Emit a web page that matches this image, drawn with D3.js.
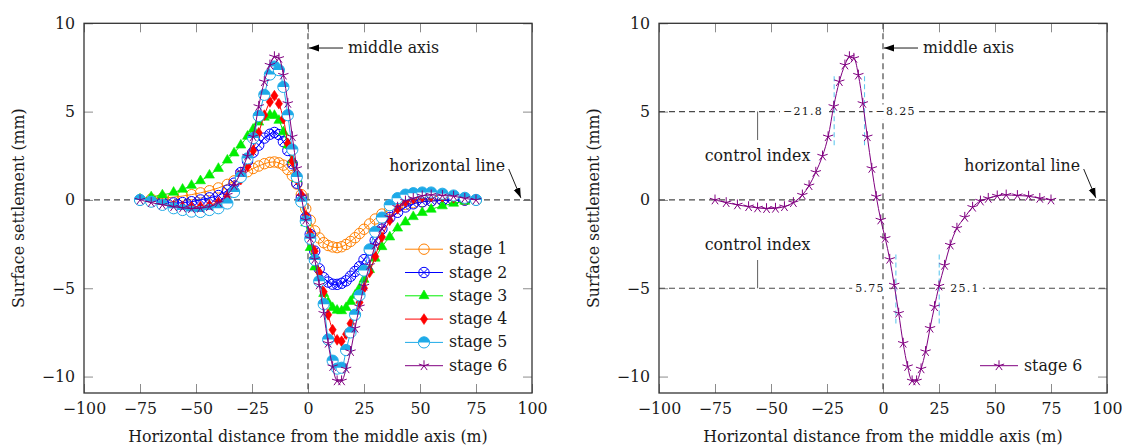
<!DOCTYPE html>
<html>
<head>
<meta charset="utf-8">
<script src="https://cdn.jsdelivr.net/npm/d3@7/dist/d3.min.js"></script>
<style>
    body { margin: 0; background: #ffffff; }
    svg { display: block; }
    svg text { font-family: "DejaVu Serif", "Liberation Serif", serif; }
</style>
</head>
<body>
<div id="chart-container"></div>
<script>
// Surface settlement troughs for six construction stages (two panels)

// Horizontal distance from the middle axis (m)
const distance = [-75, -70, -65, -60, -56, -52, -48, -44, -40, -36, -33, -30, -27, -24.5, -22, -19.5,
    -17, -15, -13, -11, -9, -7, -5, -3, -1, 1, 3, 5, 7, 9, 11, 13, 15, 17, 19, 21, 23, 25,
    27.5, 30, 33, 36.5, 40, 43.5, 47, 51, 55, 60, 65, 70, 75];

// Surface settlement (mm) per stage
const stage1 = [0, 0.05, 0.1, 0.16, 0.22, 0.3, 0.4, 0.52, 0.68, 0.88, 1.08, 1.38, 1.6, 1.78, 1.92, 2.05,
    2.13, 2.15, 2.1, 1.97, 1.72, 1.38, 0.9, 0.3, -0.5, -1.15, -1.75, -2.15, -2.42, -2.58, -2.66, -2.7, -2.65, -2.52, -2.35, -2.14, -1.9, -1.66,
    -1.36, -1.08, -0.8, -0.56, -0.38, -0.25, -0.16, -0.1, -0.06, -0.03, -0.02, -0.01, 0];
const stage2 = [0, -0.05, -0.12, -0.17, -0.15, -0.1, 0, 0.12, 0.25, 0.55, 0.95, 1.55, 2.2, 2.7, 3.1, 3.5,
    3.72, 3.82, 3.7, 3.3, 2.8, 2.05, 0.95, 0.1, -1.0, -1.95, -2.9, -3.9, -4.4, -4.65, -4.77, -4.78, -4.72, -4.58, -4.32, -4.05, -3.78, -3.38,
    -2.85, -2.3, -1.65, -1.0, -0.7, -0.4, -0.22, -0.11, -0.06, -0.03, -0.02, -0.01, 0];
const stage3 = [0.05, 0.17, 0.28, 0.43, 0.6, 0.82, 1.08, 1.4, 1.78, 2.25, 2.65, 3.1, 3.6, 4.0, 4.4, 4.68,
    4.8, 4.78, 4.5, 3.85, 3.1, 2.25, 1.2, 0.0, -1.3, -2.7, -3.8, -4.6, -5.3, -5.8, -6.1, -6.25, -6.28, -6.1, -5.75, -5.4, -5.0, -4.5,
    -3.95, -3.3, -2.65, -2.1, -1.6, -1.25, -0.95, -0.72, -0.53, -0.34, -0.19, -0.08, 0];
const stage4 = [0, -0.1, -0.22, -0.32, -0.38, -0.4, -0.38, -0.3, -0.12, 0.2, 0.6, 1.15, 1.9, 2.8, 3.8, 4.8,
    5.55, 5.9, 5.45, 4.6, 3.2, 2.2, 1.15, 0.3, -0.9, -1.9, -2.9, -4.1, -5.2, -6.5, -7.35, -7.92, -8.0, -7.6, -7.0, -6.5, -5.8, -5.0,
    -4.1, -3.2, -2.1, -1.15, -0.5, -0.1, 0.08, 0.18, 0.2, 0.18, 0.12, 0.05, 0];
const stage5 = [0, -0.1, -0.28, -0.47, -0.57, -0.66, -0.68, -0.57, -0.47, -0.2, 0.45, 1.3, 2.35, 3.5, 4.75, 5.95,
    7.1, 7.55, 7.35, 6.4, 4.8, 2.85, 1.3, -0.1, -1.2, -2.2, -3.4, -4.6, -5.9, -7.9, -9.1, -9.55, -9.5, -8.5, -7.5, -6.5, -5.4, -4.0,
    -2.8, -1.8, -1.0, -0.3, 0.1, 0.3, 0.38, 0.42, 0.42, 0.35, 0.25, 0.12, 0];
const stage6 = [0, -0.15, -0.28, -0.38, -0.45, -0.49, -0.47, -0.38, -0.15, 0.28, 0.81, 1.57, 2.49, 3.58, 5.3, 6.7,
    7.64, 8.11, 8.02, 7.07, 5.47, 3.58, 1.79, 0.19, -1.13, -2.17, -3.36, -4.81, -6.41, -8.11, -9.43, -10.24, -10.24, -9.56, -8.58, -7.26, -6.04, -4.87,
    -3.7, -2.55, -1.6, -0.98, -0.41, -0.06, 0.09, 0.23, 0.28, 0.25, 0.21, 0.09, 0];

const stageNames = ['stage 1', 'stage 2', 'stage 3', 'stage 4', 'stage 5', 'stage 6'];
const stageColors = ['#ff8000', '#0000ff', '#00ee00', '#ff0000', '#1eaae8', '#800080'];
const stageMarkers = ['circle', 'otimes', 'triangle', 'diamond', 'halfcircle', 'star'];

const xTicks = [-100, -75, -50, -25, 0, 25, 50, 75, 100];
const yTicks = [-10, -5, 0, 5, 10];

// Control index (right panel): levels and the distances where stage 6 crosses them
const controlLevels = [5, -5];
const crossX = [-21.8, -8.25, 5.75, 25.1];
const crossY = [5, 5, -5, -5];
const crossLabels = ['\u221221.8', '\u22128.25', '5.75', '25.1'];

const allStages = [stage1, stage2, stage3, stage4, stage5, stage6];
const FS = 15.8;

function initSettlementChart() {
    const svg = d3.select('#chart-container')
        .append('svg')
        .attr('width', 1122)
        .attr('height', 446);

    // Arrow head used by the annotations
    svg.append('defs').append('marker')
        .attr('id', 'arrow-head')
        .attr('viewBox', '0 0 10 8')
        .attr('refX', 10)
        .attr('refY', 4)
        .attr('markerWidth', 10)
        .attr('markerHeight', 8)
        .attr('markerUnits', 'userSpaceOnUse')
        .attr('orient', 'auto')
        .append('path')
        .attr('d', 'M0,0.5 L10,4 L0,7.5 Z')
        .attr('fill', '#000');

    // Left panel: all six stages
    drawPanel(svg, {left: 84, right: 532, top: 23.3, bottom: 393}, [0, 1, 2, 3, 4, 5], false);
    // Right panel: stage 6 with control index
    drawPanel(svg, {left: 659, right: 1107, top: 23.3, bottom: 393}, [5], true);
}

function drawPanel(svg, frame, seriesIdx, showControl) {
    const x = d3.scaleLinear().domain([-100, 100]).range([frame.left, frame.right]);
    const y = d3.scaleLinear().domain([-10.93, 10]).range([frame.bottom, frame.top]);
    const g = svg.append('g');
    const tickFmt = d => d < 0 ? '\u2212' + Math.abs(d) : String(d);

    // Axes with inward ticks on all four sides
    const axes = [
        {gen: d3.axisBottom(x).tickValues(xTicks).tickPadding(10).tickFormat(tickFmt), t: `translate(0,${frame.bottom})`},
        {gen: d3.axisTop(x).tickValues(xTicks).tickFormat(''), t: `translate(0,${frame.top})`},
        {gen: d3.axisLeft(y).tickValues(yTicks).tickPadding(9).tickFormat(tickFmt), t: `translate(${frame.left},0)`},
        {gen: d3.axisRight(y).tickValues(yTicks).tickFormat(''), t: `translate(${frame.right},0)`}
    ];
    axes.forEach(a => {
        const ax = g.append('g')
            .attr('transform', a.t)
            .call(a.gen.tickSizeInner(-9).tickSizeOuter(0));
        ax.attr('font-family', null);
        ax.select('.domain').remove();
        ax.selectAll('.tick line').attr('stroke', '#8c8c8c').attr('stroke-width', 1);
        ax.selectAll('text')
            .attr('font-size', FS)
            .attr('fill', '#1a1a1a');
    });

    // Dashed reference lines
    const hLines = showControl ? [0].concat(controlLevels) : [0];
    g.selectAll('.h-ref')
        .data(hLines)
        .enter()
        .append('line')
        .attr('class', 'h-ref')
        .attr('x1', frame.left).attr('x2', frame.right)
        .attr('y1', d => y(d)).attr('y2', d => y(d))
        .attr('stroke', '#4a4a4a').attr('stroke-width', 1.2)
        .attr('stroke-dasharray', '6,4');
    g.append('line')
        .attr('x1', x(0)).attr('x2', x(0))
        .attr('y1', frame.top).attr('y2', frame.bottom)
        .attr('stroke', '#4a4a4a').attr('stroke-width', 1.2)
        .attr('stroke-dasharray', '6,4');

    if (showControl) {
        // Cyan guides at the crossing distances
        g.selectAll('.cross-guide')
            .data(crossX)
            .enter()
            .append('line')
            .attr('class', 'cross-guide')
            .attr('x1', d => x(d)).attr('x2', d => x(d))
            .attr('y1', (d, i) => y(crossY[i] + Math.sign(crossY[i]) * 2))
            .attr('y2', (d, i) => y(crossY[i] - Math.sign(crossY[i]) * 2))
            .attr('stroke', '#62c8ee').attr('stroke-width', 1.1)
            .attr('stroke-dasharray', '5,3');

        // Crossing labels on white boxes
        crossX.forEach((cx, i) => {
            const leftSide = (i % 2 === 0);
            const lbl = g.append('text')
                .attr('x', leftSide ? x(cx) - 11 : x(cx) + 11)
                .attr('y', y(crossY[i]))
                .attr('dy', '0.35em')
                .attr('text-anchor', leftSide ? 'end' : 'start')
                .attr('font-size', 11)
                .attr('letter-spacing', 1.3)
                .attr('fill', '#1a1a1a')
                .text(crossLabels[i]);
            const bb = lbl.node().getBBox();
            g.insert('rect', () => lbl.node())
                .attr('x', bb.x - 3).attr('y', bb.y - 1)
                .attr('width', bb.width + 6).attr('height', bb.height + 2)
                .attr('fill', '#ffffff');
        });

        // "control index" callouts
        controlLevels.forEach(level => {
            const s = Math.sign(level);
            g.append('line')
                .attr('x1', x(-56)).attr('x2', x(-56))
                .attr('y1', y(level)).attr('y2', y(level - s * 1.6))
                .attr('stroke', '#6e6e6e').attr('stroke-width', 1.1);
            g.append('text')
                .attr('x', x(-56))
                .attr('y', y(level - s * 2.5))
                .attr('dy', '0.35em')
                .attr('text-anchor', 'middle')
                .attr('font-size', FS)
                .attr('fill', '#1a1a1a')
                .text('control index');
        });
    }

    // Data series
    const line = d3.line()
        .x(d => x(d[0]))
        .y(d => y(d[1]))
        .curve(d3.curveCatmullRom.alpha(0.5));

    seriesIdx.forEach(k => {
        const pts = distance.map((d, i) => [d, allStages[k][i]]);
        g.append('path')
            .datum(pts)
            .attr('d', line)
            .attr('fill', 'none')
            .attr('stroke', stageColors[k])
            .attr('stroke-width', 1);
        const mk = g.append('g');
        pts.forEach(p => {
            const m = mk.append('g').attr('transform', `translate(${x(p[0])},${y(p[1])})`);
            drawMarker(m, stageMarkers[k], stageColors[k]);
        });
    });

    // Annotations: middle axis and horizontal line
    const ay = y(8.6);
    g.append('line')
        .attr('x1', x(0) + 35).attr('y1', ay)
        .attr('x2', x(0) + 1).attr('y2', ay)
        .attr('stroke', '#000').attr('stroke-width', 0.9)
        .attr('marker-end', 'url(#arrow-head)');
    g.append('text')
        .attr('x', x(0) + 40).attr('y', ay)
        .attr('dy', '0.3em')
        .attr('font-size', FS).attr('fill', '#1a1a1a')
        .text('middle axis');

    g.append('text')
        .attr('x', x(88)).attr('y', y(1.9))
        .attr('dy', '0.3em')
        .attr('text-anchor', 'end')
        .attr('font-size', FS).attr('fill', '#1a1a1a')
        .text('horizontal line');
    g.append('line')
        .attr('x1', x(89.6)).attr('y1', y(1.75))
        .attr('x2', x(95)).attr('y2', y(0.12))
        .attr('stroke', '#000').attr('stroke-width', 0.9)
        .attr('marker-end', 'url(#arrow-head)');

    // Legend (no box)
    const rowGap = 23.3;
    const legend = g.append('g')
        .attr('transform', `translate(${frame.right - 127},${frame.bottom - 27.3 - rowGap * (seriesIdx.length - 1)})`);
    seriesIdx.forEach((k, r) => {
        const row = legend.append('g').attr('transform', `translate(0,${r * rowGap})`);
        row.append('line')
            .attr('x1', 0).attr('x2', 38)
            .attr('stroke', stageColors[k]).attr('stroke-width', 1);
        drawMarker(row.append('g').attr('transform', 'translate(19,0)'), stageMarkers[k], stageColors[k]);
        row.append('text')
            .attr('x', 44).attr('dy', '0.32em')
            .attr('font-size', FS).attr('fill', '#1a1a1a')
            .text(stageNames[k]);
    });

    // Frame
    g.append('rect')
        .attr('x', frame.left).attr('y', frame.top)
        .attr('width', frame.right - frame.left)
        .attr('height', frame.bottom - frame.top)
        .attr('fill', 'none')
        .attr('stroke', '#333').attr('stroke-width', 1.3);

    // Axis titles
    g.append('text')
        .attr('x', (frame.left + frame.right) / 2)
        .attr('y', 442)
        .attr('text-anchor', 'middle')
        .attr('font-size', FS).attr('fill', '#1a1a1a')
        .text('Horizontal distance from the middle axis (m)');
    g.append('text')
        .attr('transform', `translate(${frame.left - 60},${(frame.top + frame.bottom) / 2}) rotate(-90)`)
        .attr('text-anchor', 'middle')
        .attr('font-size', FS).attr('fill', '#1a1a1a')
        .text('Surface settlement (mm)');
}

// Draw one plot mark centred at the origin of g
function drawMarker(g, type, color) {
    if (type === 'circle') {
        g.append('circle').attr('r', 5.2).attr('fill', 'none').attr('stroke', color).attr('stroke-width', 1);
    } else if (type === 'otimes') {
        g.append('circle').attr('r', 5.2).attr('fill', 'none').attr('stroke', color).attr('stroke-width', 1);
        g.append('path').attr('d', 'M-3.6,-3.6L3.6,3.6M-3.6,3.6L3.6,-3.6')
            .attr('stroke', color).attr('stroke-width', 1);
    } else if (type === 'triangle') {
        g.append('path').attr('d', 'M0,-5.8L5,2.9L-5,2.9Z').attr('fill', color).attr('stroke', color).attr('stroke-width', 0.6);
    } else if (type === 'diamond') {
        g.append('path').attr('d', 'M0,-5.4L3.6,0L0,5.4L-3.6,0Z').attr('fill', color).attr('stroke', color).attr('stroke-width', 0.6);
    } else if (type === 'halfcircle') {
        g.append('circle').attr('r', 5.6).attr('fill', '#ffffff').attr('stroke', color).attr('stroke-width', 1);
        g.append('path').attr('d', 'M-5.6,0A5.6,5.6 0 0 1 5.6,0Z').attr('fill', color);
    } else if (type === 'star') {
        let d = '';
        for (let i = 0; i < 5; i++) {
            const a = (-90 + i * 72) * Math.PI / 180;
            d += `M0,0L${(5.4 * Math.cos(a)).toFixed(2)},${(5.4 * Math.sin(a)).toFixed(2)}`;
        }
        g.append('path').attr('d', d).attr('stroke', color).attr('stroke-width', 1).attr('fill', 'none');
    }
}

initSettlementChart();
</script>
</body>
</html>
